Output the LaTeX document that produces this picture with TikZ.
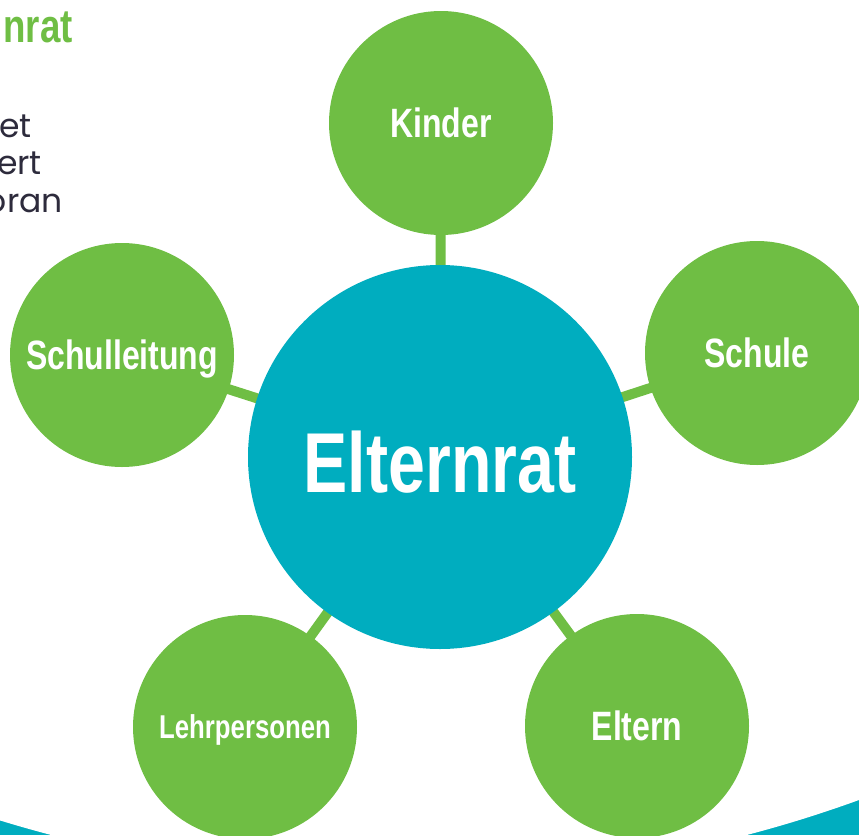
\documentclass[tikz,border=0pt]{standalone}
\usepackage{fontspec}
\usetikzlibrary{backgrounds}
\newfontfamily\condfont[FakeStretch=0.78]{Liberation Sans}
\newfontfamily\bodyfont{Poppins}
\definecolor{ratgreen}{HTML}{6FBE44}
\definecolor{ratteal}{HTML}{00ADBF}
\definecolor{ratgrey}{HTML}{2D2B3C}

\begin{document}
\begin{tikzpicture}[x=1pt, y=-1pt,
                    hub/.style={circle, fill=ratteal, minimum size=384pt, inner sep=0pt, text=white,
                                font=\condfont\bfseries\fontsize{85}{85}\selectfont, text height=70pt, text depth=0pt},
                    member/.style={circle, fill=ratgreen, minimum size=224pt, inner sep=0pt, text=white,
                                   font=\condfont\bfseries\fontsize{41}{41}\selectfont, text depth=0pt},
                    link/.style={draw=ratgreen, line width=10pt},
                    bodytext/.style={anchor=base east, inner sep=0pt, text=ratgrey,
                                     font=\bodyfont\fontsize{33}{33}\selectfont}
]
\useasboundingbox (0,0) rectangle (859,835);
\clip (0,0) rectangle (859,835);

\node [anchor=base east, inner sep=0pt, text=ratgreen, font=\condfont\bfseries\fontsize{47}{47}\selectfont] (heading) at (73,42) {nrat};
\node [bodytext] (line1) at (32,137) {et};
\node [bodytext] (line2) at (42,174) {ert};
\node [bodytext] (line3) at (63,212) {oran};
%
\node [hub] (elternrat) at (440,457) {Elternrat};
\node [member] (kinder) at (441,123) {Kinder};
\node [member] (schulleitung) at (122,355) {Schulleitung};
\node [member] (schule) at (757,353) {Schule};
\node [member, font=\condfont\bfseries\fontsize{33}{33}\selectfont] (lehrpersonen) at (245,727) {Lehrpersonen};
\node [member] (eltern) at (637,726) {Eltern};
%
\begin{scope}[on background layer]
\fill [ratteal] (0,0) rectangle (859,835);
\fill [white] (399,100) ellipse [x radius=1047pt, y radius=779pt];
\draw [link] (elternrat.center) -- (kinder.center);
\draw [link] (elternrat.center) -- (schulleitung.center);
\draw [link] (elternrat.center) -- (schule.center);
\draw [link] (elternrat.center) -- (lehrpersonen.center);
\draw [link] (elternrat.center) -- (eltern.center);
\end{scope}
\end{tikzpicture}
\end{document}
